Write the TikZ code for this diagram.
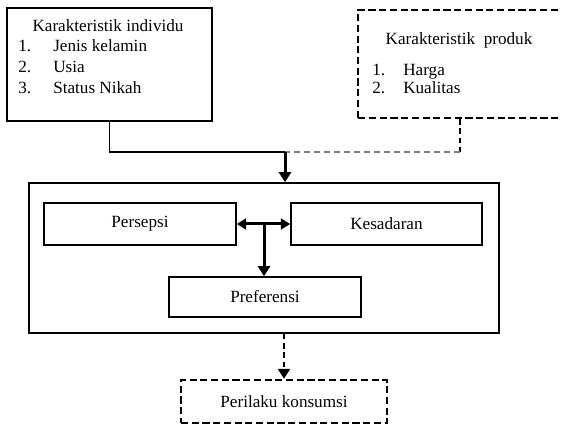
\documentclass[tikz,border=0pt]{standalone}
\usepackage{fontspec}
\setmainfont{Liberation Serif}
\usetikzlibrary{arrows.meta, positioning}

\begin{document}
\begin{tikzpicture}[
    x=0.7pt, y=-0.7pt,
    every node/.style={font=\fontsize{12}{14.7}\selectfont},
    box/.style={draw, line width=1.1pt, inner sep=0pt},
    dbox/.style={box, line width=1.7pt, dash pattern=on 5pt off 2.5pt},
    link/.style={line width=1.1pt},
    flow/.style={line width=2.1pt, -{Triangle[length=7pt, width=8.4pt]}},
    both/.style={line width=2.1pt, {Triangle[length=6.5pt, width=7.5pt]}-{Triangle[length=6.5pt, width=7.5pt]}},
    dflow/.style={line width=1.7pt, dash pattern=on 4pt off 2.5pt, -{Triangle[length=7pt, width=8.4pt]}},
    txt/.style={draw=none, inner sep=0pt},
]
\useasboundingbox (0,0) rectangle (561,426);

% Define input boxes
\node[box, minimum width=143.5pt, minimum height=79.1pt] (indiv) at (109.5,64.5) {};
\node[dbox, anchor=west, minimum width=152pt, minimum height=75.6pt] (produk) at (357,64) {};

% Texts of the input boxes
\node[txt] (indivtitle) at (108,26) {Karakteristik individu};
\node[txt, anchor=west] (indivlist) at (18,68) {\begin{tabular}{@{}p{24.5pt}@{}l@{}}
1. & Jenis kelamin\\
2. & Usia\\
3. & Status Nikah
\end{tabular}};
\node[txt] (produktitle) at (459,40) {Karakteristik~ produk};
\node[txt, anchor=west, font=\fontsize{12}{12.6}\selectfont] (produklist) at (372,81) {\begin{tabular}{@{}p{21.7pt}@{}l@{}}
1. & Harga\\
2. & Kualitas
\end{tabular}};

% Define inner boxes
\node[box, minimum width=329pt, minimum height=105pt] (outer) at (264,258) {};
\node[box, minimum width=134.4pt, minimum height=29.4pt] (persepsi) at (140,224) {Persepsi};
\node[box, minimum width=133.7pt, minimum height=29.4pt] (kesadaran) at (386.5,224) {Kesadaran};
\node[box, minimum width=134.4pt, minimum height=28pt] (preferensi) at (265,297) {Preferensi};

% Output box
\node[dbox, minimum width=144.2pt, minimum height=30.1pt] (perilaku) at (284,401.5) {Perilaku konsumsi};

% Define connections
\coordinate (join) at (285,152);
\coordinate (pturn) at (460,152);
\draw[link] (indiv.south) |- (join);
\draw[line width=1.7pt, dash pattern=on 4pt off 2.5pt] (pturn |- produk.south) -- (pturn);
\draw[line width=0.9pt, gray, dash pattern=on 4pt off 3pt] (pturn) -- (join);
\draw[flow] (join) -- (join |- outer.north);

\draw[both] (persepsi.east) -- (kesadaran.west);
\coordinate (split) at (264,224);
\draw[flow] (split) -- (split |- preferensi.north);

\draw[dflow] (perilaku.north |- outer.south) -- (perilaku.north);

\end{tikzpicture}
\end{document}
